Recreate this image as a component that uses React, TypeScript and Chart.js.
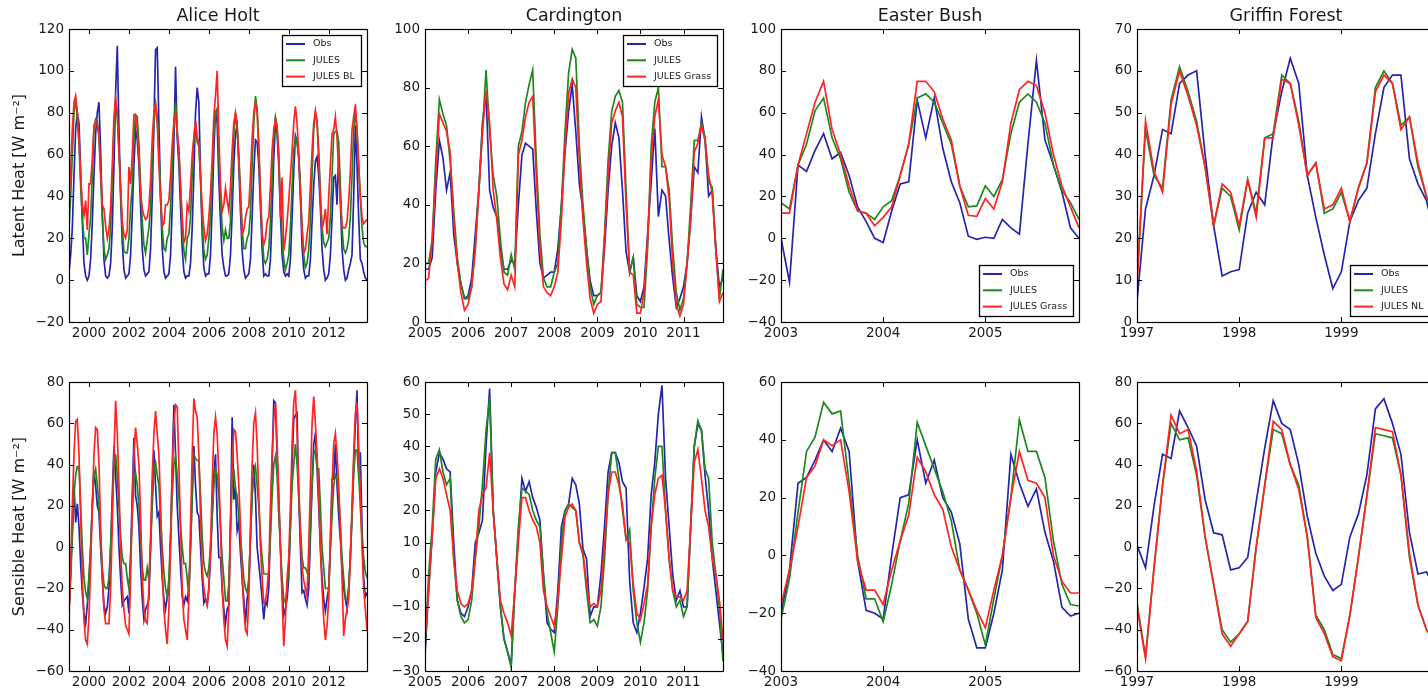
import React, { useEffect, useRef } from 'react';
import { Chart, registerables } from 'chart.js';

Chart.register(...registerables);
Chart.defaults.font.family = "'DejaVu Sans', sans-serif";

// ---------------- text ----------------
const SITES = ['Alice Holt', 'Cardington', 'Easter Bush', 'Griffin Forest'];
const Y_TITLES = ['Latent Heat [W m\u207B\u00B2]', 'Sensible Heat [W m\u207B\u00B2]'];
const LEGEND_LABELS = [
  ['Obs', 'JULES', 'JULES BL'],
  ['Obs', 'JULES', 'JULES Grass'],
  ['Obs', 'JULES', 'JULES Grass'],
  ['Obs', 'JULES', 'JULES NL'],
];
const START_YEARS = [1999, 2005, 2003, 1997];

// ---------------- ticks ----------------
const AH_X_TICKS = [2000, 2002, 2004, 2006, 2008, 2010, 2012];
const CA_X_TICKS = [2005, 2006, 2007, 2008, 2009, 2010, 2011];
const EB_X_TICKS = [2003, 2004, 2005];
const GF_X_TICKS = [1997, 1998, 1999];

const AH_LE_Y_TICKS = [-20, 0, 20, 40, 60, 80, 100, 120];
const CA_LE_Y_TICKS = [0, 20, 40, 60, 80, 100];
const EB_LE_Y_TICKS = [-40, -20, 0, 20, 40, 60, 80, 100];
const GF_LE_Y_TICKS = [0, 10, 20, 30, 40, 50, 60, 70];
const AH_H_Y_TICKS = [-60, -40, -20, 0, 20, 40, 60, 80];
const CA_H_Y_TICKS = [-30, -20, -10, 0, 10, 20, 30, 40, 50, 60];
const EB_H_Y_TICKS = [-40, -20, 0, 20, 40, 60];
const GF_H_Y_TICKS = [-60, -40, -20, 0, 20, 40, 60, 80];

// ---------------- Alice Holt (monthly, Jan 1999 - Dec 2013) ----------------
const AH_LE_OBS = [
  4, 12, 25, 50, 72, 80, 75, 52, 28, 8, 2, 0,
  2, 10, 28, 50, 70, 80, 85, 62, 32, 10, 2, 1,
  2, 8, 25, 55, 90, 112, 72, 40, 18, 5, 1, 2,
  3, 12, 32, 55, 72, 67, 55, 35, 15, 5, 2, 3,
  4, 15, 40, 75, 110, 111, 75, 40, 15, 4, 1, 2,
  3, 12, 35, 65, 102, 68, 55, 35, 15, 4, 1, 2,
  2, 8, 25, 50, 80, 92, 85, 50, 22, 6, 2, 3,
  3, 12, 35, 62, 81, 75, 48, 28, 12, 6, 2, 2,
  3, 12, 32, 55, 70, 74, 55, 33, 14, 5, 1, 2,
  3, 10, 30, 52, 67, 66, 55, 35, 15, 2, 3, 2,
  2, 10, 32, 58, 75, 70, 55, 32, 12, 4, 2, 3,
  2, 10, 30, 52, 69, 66, 58, 40, 16, 5, 1, 2,
  2, 10, 28, 45, 57, 59, 50, 35, 15, 5, 0, 1,
  3, 12, 30, 49, 50, 36, 60, 38, 15, 5, 0, 1,
  5, 8, 12, 40, 74, 55, 30, 10, 8, 4, 1, 0,
];
const AH_LE_JULES = [
  25, 40, 60, 80, 86, 78, 65, 45, 30, 20, 20, 12,
  22, 30, 50, 72, 77, 76, 68, 50, 30, 15, 10, 12,
  15, 25, 48, 72, 83, 78, 62, 42, 25, 14, 13, 13,
  20, 35, 45, 68, 79, 78, 65, 45, 28, 17, 13, 19,
  25, 35, 55, 75, 84, 78, 62, 42, 25, 15, 14, 20,
  22, 35, 55, 75, 85, 72, 62, 45, 25, 14, 10, 20,
  22, 30, 50, 68, 76, 66, 64, 48, 28, 14, 10, 12,
  20, 30, 50, 70, 80, 82, 60, 40, 25, 19, 24, 20,
  20, 28, 48, 70, 80, 72, 60, 42, 25, 15, 15, 20,
  22, 32, 55, 75, 88, 82, 65, 42, 22, 10, 8, 10,
  15, 28, 48, 68, 78, 74, 60, 38, 20, 10, 5, 8,
  12, 25, 45, 62, 68, 66, 60, 45, 25, 12, 6, 8,
  15, 28, 50, 72, 80, 76, 62, 42, 25, 18, 16, 18,
  20, 30, 50, 70, 71, 71, 66, 45, 25, 15, 13, 15,
  20, 30, 50, 72, 80, 72, 55, 40, 25, 18, 16, 16,
];
const AH_LE_BL = [
  40, 52, 72, 85, 88, 80, 68, 50, 36, 31, 38, 24,
  46, 46, 58, 74, 76, 74, 70, 52, 36, 34, 26, 20,
  24, 35, 55, 78, 87, 80, 62, 45, 28, 22, 20, 24,
  54, 46, 60, 79, 79, 72, 58, 42, 34, 31, 29, 30,
  35, 48, 68, 80, 84, 75, 55, 38, 26, 27, 36, 36,
  38, 50, 65, 75, 80, 70, 62, 45, 30, 18, 20, 36,
  33, 45, 60, 68, 76, 68, 66, 50, 35, 25, 19, 22,
  30, 42, 58, 78, 88, 100, 70, 45, 33, 36, 44, 38,
  33, 45, 62, 75, 80, 74, 58, 40, 22, 24, 30, 34,
  35, 50, 68, 80, 85, 80, 62, 40, 22, 17, 20, 28,
  30, 45, 62, 72, 77, 72, 60, 30, 49, 14, 20, 28,
  38, 50, 62, 75, 83, 75, 60, 40, 25, 13, 15, 22,
  28, 45, 62, 75, 81, 75, 58, 38, 25, 28, 34, 22,
  40, 55, 70, 72, 78, 68, 52, 38, 26, 25, 25, 28,
  38, 52, 72, 78, 84, 72, 55, 40, 30, 27, 28, 29,
];
const AH_H_OBS = [
  -30, -12, 8, 30, 12, 21, 10, -8, -22, -32, -37, -28,
  -17, 0, 20, 37, 30, 20, 17, 0, -15, -28, -32, -29,
  -20, 0, 25, 49, 35, 20, 0, -15, -28, -26, -25, -24,
  -32, -5, 25, 53, 25, 20, 10, -10, -25, -35, -30, -28,
  -25, 0, 25, 47, 30, 15, 17, 0, -15, -25, -30, -24,
  -22, 5, 38, 69, 45, 20, 5, -10, -24, -28, -24, -26,
  -20, 0, 25, 49, 30, 17, 15, 0, -15, -27, -25, -28,
  -20, -5, 15, 35, 45, 15, -5, -5, -20, -30, -37, -30,
  -28, 10, 63, 23, 29, 8, 12, -3, -15, -25, -37, -25,
  -20, 5, 25, 40, 25, 0, -8, -16, -25, -35, -26, -28,
  -20, 10, 40, 71, 70, 45, 24, 0, -20, -33, -30, -25,
  -15, 10, 40, 62, 64, 65, 24, 0, -22, -21, -25, -28,
  -20, 5, 30, 50, 55, 38, 20, 0, -15, -25, -31, -25,
  -20, 0, 33, 33, 50, 30, 15, 4, -10, -20, -25, -30,
  -20, -5, 15, 40, 60, 76, 36, 46, 10, -15, -24, -22,
];
const AH_H_JULES = [
  -30, -15, 5, 25, 35, 39, 39, 20, 0, -15, -22, -25,
  -14, 0, 20, 35, 38, 30, 20, 5, -10, -18, -20, -20,
  -15, 0, 20, 38, 45, 35, 20, 5, -5, -8, -8, -15,
  -20, -5, 15, 33, 36, 30, 20, 5, -10, -16, -16, -10,
  -16, 0, 20, 38, 41, 35, 30, 15, 0, -12, -20, -24,
  -15, 5, 25, 40, 44, 35, 25, 10, 0, -8, -8, -15,
  -24, 0, 25, 45, 43, 42, 42, 25, 5, -8, -12, -14,
  -10, 0, 15, 30, 38, 35, 25, 10, -5, -15, -26, -26,
  -18, 10, 30, 38, 28, 25, 15, 5, -5, -15, -20, -22,
  -15, 5, 25, 35, 39, 30, 20, 5, -5, -13, -13, -13,
  -13, 5, 25, 40, 44, 35, 15, 0, -15, -25, -27, -20,
  -10, 10, 30, 40, 50, 40, 25, 10, -5, -10, -10, -12,
  -15, 10, 30, 45, 47, 38, 38, 20, 0, -10, -20, -20,
  -20, 0, 15, 30, 35, 33, 25, 10, -5, -15, -25, -25,
  -20, -5, 15, 35, 47, 47, 35, 20, 5, -5, -12, -15,
];
const AH_H_BL = [
  -34, -10, 20, 45, 61, 62, 45, 15, -15, -35, -45, -47,
  -33, -10, 20, 45, 58, 57, 40, 10, -15, -30, -37, -37,
  -37, -20, 10, 45, 71, 55, 30, 0, -20, -30, -38, -40,
  -42, -15, 20, 45, 58, 50, 40, 15, -15, -30, -36, -37,
  -20, 5, 35, 55, 66, 55, 45, 20, -10, -30, -40, -47,
  -30, 0, 35, 60, 69, 68, 40, 10, -20, -35, -40, -45,
  -25, 10, 45, 72, 66, 63, 45, 15, -10, -20, -25, -28,
  -20, 0, 30, 55, 63, 55, 35, 10, -20, -35, -45, -48,
  -30, 10, 40, 57, 56, 45, 30, 10, -15, -30, -40, -42,
  -25, 10, 40, 60, 65, 50, 25, 0, -15, -27, -27, -20,
  -10, 20, 45, 62, 70, 50, 25, 0, -25, -48, -35, -15,
  -5, 20, 50, 70, 76, 55, 30, 5, -10, -16, -20, -24,
  0, 30, 60, 73, 60, 45, 25, 0, -20, -35, -45, -38,
  -25, 5, 30, 50, 55, 45, 30, 10, -15, -43, -35, -30,
  -25, -5, 20, 45, 65, 70, 50, 25, 0, -20, -30, -40,
];

// ---------------- Cardington (monthly, Jan 2005 - Dec 2011) ----------------
const CA_LE_OBS = [
  18, 18, 22, 45, 62, 56, 45, 51, 30, 20, 13, 8,
  9, 15, 30, 45, 68, 78, 45, 39, 36, 25, 18, 18,
  21, 20, 40, 57, 61, 60, 59, 38, 20, 15, 16, 17,
  17, 25, 40, 58, 72, 81, 65, 47, 38, 25, 14, 9,
  9, 10, 25, 45, 60, 68, 63, 45, 24, 17, 22, 9,
  7, 12, 30, 48, 66, 36, 45, 43, 28, 15, 5, 8,
  12, 20, 35, 53, 51, 70, 62, 43, 45, 25, 12, 15,
];
const CA_LE_JULES = [
  20, 20, 28, 55, 76, 71, 67, 55, 38, 22, 13, 8,
  8, 12, 25, 45, 65, 86, 65, 50, 43, 28, 17, 16,
  23, 18, 60, 65, 75, 81, 86, 55, 30, 15, 12, 12,
  17, 20, 40, 65, 85, 93, 90, 60, 40, 25, 12, 6,
  9, 10, 30, 55, 72, 77, 79, 75, 45, 17, 22, 6,
  5, 5, 25, 60, 75, 80, 53, 53, 45, 25, 10, 4,
  8, 20, 40, 62, 62, 68, 63, 48, 46, 25, 8, 18,
];
const CA_LE_GRASS = [
  14, 15, 28, 50, 71, 68, 65, 58, 35, 20, 10, 4,
  6, 12, 25, 45, 65, 79, 68, 45, 35, 22, 13, 11,
  16, 12, 57, 62, 70, 75, 77, 50, 25, 12, 10, 9,
  12, 17, 35, 60, 78, 83, 80, 55, 35, 20, 8, 3,
  6, 7, 28, 50, 68, 72, 75, 70, 40, 17, 16, 3,
  3, 10, 28, 55, 70, 76, 57, 53, 42, 20, 6, 2,
  6, 20, 35, 58, 61, 67, 62, 50, 44, 25, 7, 10,
];
const CA_H_OBS = [
  -25, -5, 12, 32, 38, 36, 33, 32, 10, -8, -12, -13,
  -10, -5, 10, 13, 17, 40, 58, 20, 5, -10, -20, -24,
  -28, -5, 12, 30, 26, 29, 24, 21, 17, 0, -15, -17,
  -18, -5, 15, 20, 22, 30, 28, 22, 8, 5, -13, -10,
  -10, 0, 15, 32, 38, 38, 35, 29, 27, -2, -15, -18,
  -12, -4, 5, 25, 35, 50, 59, 30, 15, 0, -8, -5,
  -10, -10, 15, 40, 47, 45, 31, 20, 5, -5, -15, -25,
];
const CA_H_JULES = [
  -24, 0, 15, 36, 39, 32, 28, 30, 5, -8, -13, -15,
  -14, -8, 5, 15, 28, 45, 55, 20, 5, -10, -20, -24,
  -29, -5, 15, 27, 26, 25, 20, 17, 15, 0, -12, -18,
  -24, -10, 10, 20, 22, 21, 20, 10, 6, -5, -15, -14,
  -16, -10, 5, 25, 38, 38, 30, 20, 11, 14, -5, -15,
  -21, -15, -5, 15, 30, 40, 40, 20, 5, -5, -10, -8,
  -13, -10, 15, 40, 48, 45, 33, 30, 10, 0, -10, -27,
];
const CA_H_GRASS = [
  -20, -5, 12, 30, 33, 30, 25, 20, 5, -5, -9, -10,
  -9, -5, 5, 20, 25, 27, 38, 20, 5, -8, -12, -15,
  -19, -5, 10, 24, 24, 20, 17, 15, 10, -5, -10, -13,
  -16, -8, 5, 18, 21, 22, 20, 10, 7, -3, -10, -9,
  -10, -5, 10, 25, 32, 32, 28, 22, 11, 10, -3, -12,
  -14, -9, -3, 15, 25, 30, 31, 20, 5, -5, -7, -7,
  -8, -5, 15, 35, 39, 30, 20, 15, 5, 0, -8, -20,
];

// ---------------- Easter Bush (monthly, Jan 2003 - Dec 2005) ----------------
const EB_LE_OBS = [
  0, -21, 35, 32, 42, 50, 38, 41, 30, 15, 8, 0,
  -2, 13, 26, 27, 66, 48, 67, 43, 27, 17, 1, -0.5,
  0.5, 0, 9, 5, 2, 45, 85, 47, 35, 22, 5, 0,
];
const EB_LE_JULES = [
  17, 14, 35, 45, 61, 67, 48, 38, 22, 13, 12, 9,
  15, 18, 30, 45, 67, 69, 65, 55, 45, 25, 15, 15.5,
  25, 20, 28, 50, 65, 69, 65, 55, 35, 23, 17, 9,
];
const EB_LE_GRASS = [
  12, 12, 35, 50, 65, 75, 52, 40, 25, 13, 12, 6,
  10, 15, 30, 45, 75, 75, 70, 57, 47, 25, 11, 10.5,
  19, 14, 27, 55, 71, 75, 73, 60, 40, 25, 15, 5,
];
const EB_H_OBS = [
  -20, -5, 25, 27, 33, 40, 36, 44, 36, -2, -19, -20,
  -22, 0, 20, 21, 40, 25, 33, 20, 15, 4, -22, -32,
  -32, -20, -5, 35, 25, 17, 23, 8, -2, -18, -21, -20,
];
const EB_H_JULES = [
  -22, -8, 15, 36, 41, 53, 49, 50, 25, 0, -15, -15,
  -23, -10, 5, 18, 46, 38, 30, 22, 12, -5, -12, -20,
  -31, -15, 0, 20, 47, 36, 36, 27, 5, -10, -17, -17.5,
];
const EB_H_GRASS = [
  -17, -5, 10, 27, 31, 40, 38, 40, 22, -2, -12, -12,
  -17, -5, 5, 14, 34, 29, 21, 16, 3, -5, -12, -19,
  -25, -12, 0, 20, 36, 26, 25, 20, 0, -9, -13, -13,
];

// ---------------- Griffin Forest (monthly, Jan 1997 - Dec 1999) ----------------
const GF_LE_OBS = [
  5, 27, 35, 46, 45, 57, 59, 60, 40, 23, 11, 12,
  12.5, 26, 31, 28, 45, 55, 63, 57, 35, 25, 16, 8,
  12, 24, 29, 32, 45, 56, 59, 59, 39, 33, 29, 20,
];
const GF_LE_JULES = [
  10, 46, 35, 32, 53, 61, 55, 48, 37, 23, 32, 30,
  22, 34, 26, 44, 45, 59, 57, 48, 35, 38, 26, 27,
  31, 24, 32, 38, 56, 60, 57, 47, 49, 37, 30, 25,
];
const GF_LE_NL = [
  8, 48, 36, 31, 52, 60, 54, 47, 37, 23, 33, 31,
  23, 34, 25, 44, 44, 58, 57, 47, 35, 38, 27, 28,
  32, 24, 32, 38, 55, 59, 57, 46, 49, 38, 30, 26,
];
const GF_H_OBS = [
  1, -10, 20, 45, 43, 66, 58, 49, 23, 7, 6, -11,
  -10, -5, 22, 48, 71, 60, 57, 40, 15, -3, -14, -21,
  -18, 5, 16, 35, 67, 72, 60, 45, 7, -13, -12, -20,
];
const GF_H_JULES = [
  -27, -53, -10, 30, 60, 52, 53, 35, 5, -18, -40, -46,
  -42, -36, 0, 30, 57, 55, 40, 30, 5, -33, -40, -52,
  -54, -33, -5, 25, 55, 54, 53, 35, -5, -28, -40, -47,
];
const GF_H_NL = [
  -29, -54, -10, 30, 64, 55, 57, 37, 5, -18, -42, -48,
  -42, -36, 0, 30, 61, 57, 40, 28, 5, -34, -42, -53,
  -55, -33, -5, 25, 58, 57, 56, 35, -3, -28, -40, -46,
];

// ---------------- styles / layout ----------------
const SERIES_COLORS = ['#2626ad', '#1f871f', '#ff2424'];
const TEXT_COLOR = '#1a1a1a';
const PLOT_LEFT = [69, 425, 781, 1137];
const PLOT_W = 298;
const ROW_PLOT_TOP = [29, 379];
const ROW_PLOT_H = [293, 292];
const TOP_PAD = [29, 10];
const X_AXIS_H = 26;
const RIGHT_PAD = 12;

type Corner = 'tr' | 'br' | null;
type PanelSpec = {
  row: number; col: number;
  obs: number[]; jules: number[]; alt: number[];
  xTicks: number[]; yTicks: number[]; legend: Corner;
};

const PANELS: PanelSpec[] = [
  { row: 0, col: 0, obs: AH_LE_OBS, jules: AH_LE_JULES, alt: AH_LE_BL, xTicks: AH_X_TICKS, yTicks: AH_LE_Y_TICKS, legend: 'tr' },
  { row: 0, col: 1, obs: CA_LE_OBS, jules: CA_LE_JULES, alt: CA_LE_GRASS, xTicks: CA_X_TICKS, yTicks: CA_LE_Y_TICKS, legend: 'tr' },
  { row: 0, col: 2, obs: EB_LE_OBS, jules: EB_LE_JULES, alt: EB_LE_GRASS, xTicks: EB_X_TICKS, yTicks: EB_LE_Y_TICKS, legend: 'br' },
  { row: 0, col: 3, obs: GF_LE_OBS, jules: GF_LE_JULES, alt: GF_LE_NL, xTicks: GF_X_TICKS, yTicks: GF_LE_Y_TICKS, legend: 'br' },
  { row: 1, col: 0, obs: AH_H_OBS, jules: AH_H_JULES, alt: AH_H_BL, xTicks: AH_X_TICKS, yTicks: AH_H_Y_TICKS, legend: null },
  { row: 1, col: 1, obs: CA_H_OBS, jules: CA_H_JULES, alt: CA_H_GRASS, xTicks: CA_X_TICKS, yTicks: CA_H_Y_TICKS, legend: null },
  { row: 1, col: 2, obs: EB_H_OBS, jules: EB_H_JULES, alt: EB_H_GRASS, xTicks: EB_X_TICKS, yTicks: EB_H_Y_TICKS, legend: null },
  { row: 1, col: 3, obs: GF_H_OBS, jules: GF_H_JULES, alt: GF_H_NL, xTicks: GF_X_TICKS, yTicks: GF_H_Y_TICKS, legend: null },
];

function geometry(p: PanelSpec) {
  const yw = p.col === 0 ? 69 : 52;
  return {
    yw,
    left: PLOT_LEFT[p.col] - yw,
    top: ROW_PLOT_TOP[p.row] - TOP_PAD[p.row],
    w: yw + PLOT_W + RIGHT_PAD,
    h: TOP_PAD[p.row] + ROW_PLOT_H[p.row] + X_AXIS_H,
  };
}

const fmtNum = (v: number) => (v < 0 ? '\u2212' + Math.abs(v) : String(v));

// matplotlib-like frame, inward ticks on all sides, title and boxed legend
const mplPlugin = {
  id: 'mpl',
  afterDraw(chart: any, _args: any, opts: any) {
    const { ctx, chartArea: a, scales } = chart;
    const xs = scales.x;
    const ys = scales.y;
    const L = 5;
    ctx.save();
    ctx.strokeStyle = '#000';
    ctx.lineWidth = 1;
    ctx.beginPath();
    for (const t of xs.ticks) {
      const px = Math.round(xs.getPixelForValue(t.value)) + 0.5;
      ctx.moveTo(px, a.bottom); ctx.lineTo(px, a.bottom - L);
      ctx.moveTo(px, a.top); ctx.lineTo(px, a.top + L);
    }
    for (const t of ys.ticks) {
      const py = Math.round(ys.getPixelForValue(t.value)) + 0.5;
      ctx.moveTo(a.left, py); ctx.lineTo(a.left + L, py);
      ctx.moveTo(a.right, py); ctx.lineTo(a.right - L, py);
    }
    ctx.stroke();
    ctx.lineWidth = 1.2;
    ctx.strokeRect(Math.round(a.left) + 0.5, Math.round(a.top) + 0.5,
      Math.round(a.right - a.left), Math.round(a.bottom - a.top));

    if (opts.title) {
      ctx.font = "17.5px 'DejaVu Sans'";
      ctx.fillStyle = TEXT_COLOR;
      ctx.textAlign = 'center';
      ctx.textBaseline = 'middle';
      ctx.fillText(opts.title, (a.left + a.right) / 2, a.top - 12.5);
    }

    if (opts.legend && opts.corner) {
      ctx.font = "9.5px 'DejaVu Sans'";
      const tw = Math.max(...opts.legend.map((e: any) => ctx.measureText(e.label).width));
      const w = Math.round(31 + tw + 6);
      const h = 51;
      const x = Math.round(a.right - 6 - w);
      const y = opts.corner === 'tr' ? Math.round(a.top + 6) : Math.round(a.bottom - 6 - h);
      ctx.fillStyle = '#fff';
      ctx.fillRect(x, y, w, h);
      ctx.strokeStyle = '#000';
      ctx.lineWidth = 1.3;
      ctx.strokeRect(x + 0.5, y + 0.5, w, h);
      opts.legend.forEach((e: any, i: number) => {
        const cy = y + 9 + i * 16.3;
        ctx.strokeStyle = e.color;
        ctx.lineWidth = 2;
        ctx.beginPath();
        ctx.moveTo(x + 4, cy); ctx.lineTo(x + 23, cy);
        ctx.stroke();
        ctx.fillStyle = TEXT_COLOR;
        ctx.textAlign = 'left';
        ctx.textBaseline = 'middle';
        ctx.fillText(e.label, x + 31, cy);
      });
    }
    ctx.restore();
  },
};

function makeConfig(p: PanelSpec): any {
  const start = START_YEARS[p.col];
  const g = geometry(p);
  const names = LEGEND_LABELS[p.col];
  const sets = [p.obs, p.jules, p.alt];
  const toPts = (arr: number[]) => arr.map((v, i) => ({ x: start + i / 12, y: v }));
  const xMax = start + (p.obs.length - 1) / 12;
  const yMin = p.yTicks[0];
  const yMax = p.yTicks[p.yTicks.length - 1];
  return {
    type: 'line',
    data: {
      datasets: sets.map((s, k) => ({
        label: names[k],
        data: toPts(s),
        borderColor: SERIES_COLORS[k],
        backgroundColor: SERIES_COLORS[k],
        borderWidth: 1.7,
        pointRadius: 0,
        tension: 0,
        fill: false,
        order: 3 - k,
      })),
    },
    options: {
      responsive: false,
      animation: false,
      devicePixelRatio: 1,
      layout: { padding: { top: TOP_PAD[p.row], left: 0, right: RIGHT_PAD, bottom: 0 } },
      plugins: {
        legend: { display: false },
        tooltip: { enabled: false },
        title: { display: false },
        mpl: {
          title: p.row === 0 ? SITES[p.col] : '',
          corner: p.legend,
          legend: p.legend ? names.map((nm, k) => ({ label: nm, color: SERIES_COLORS[k] })) : null,
        },
      },
      scales: {
        x: {
          type: 'linear',
          min: start,
          max: xMax,
          afterBuildTicks: (s: any) => { s.ticks = p.xTicks.map((v) => ({ value: v })); },
          afterFit: (s: any) => { s.height = X_AXIS_H; },
          grid: { display: false, drawTicks: false },
          border: { display: false },
          ticks: {
            autoSkip: false, maxRotation: 0, minRotation: 0, padding: 3,
            font: { size: 13.5 }, color: TEXT_COLOR,
            callback: (v: any) => String(v),
          },
        },
        y: {
          type: 'linear',
          min: yMin,
          max: yMax,
          afterBuildTicks: (s: any) => { s.ticks = p.yTicks.map((v) => ({ value: v })); },
          afterFit: (s: any) => { s.width = g.yw; },
          grid: { display: false, drawTicks: false },
          border: { display: false },
          ticks: {
            autoSkip: false, padding: 5,
            font: { size: 13.5 }, color: TEXT_COLOR,
            callback: (v: any) => fmtNum(Number(v)),
          },
          title: {
            display: p.col === 0,
            text: Y_TITLES[p.row],
            font: { size: 16 },
            color: TEXT_COLOR,
            padding: { top: 10, bottom: 0 },
          },
        },
      },
    },
    plugins: [mplPlugin],
  };
}

function Panel({ spec }: { spec: PanelSpec }) {
  const ref = useRef<HTMLCanvasElement | null>(null);
  const g = geometry(spec);
  useEffect(() => {
    if (!ref.current) return;
    const chart = new Chart(ref.current, makeConfig(spec));
    return () => chart.destroy();
  }, [spec]);
  return (
    <canvas
      ref={ref}
      width={g.w}
      height={g.h}
      style={{ position: 'absolute', left: g.left, top: g.top, width: g.w, height: g.h, display: 'block' }}
    />
  );
}

export default function App() {
  return (
    <div
      style={{
        position: 'fixed', left: 0, top: 0, width: 1428, height: 698,
        overflow: 'hidden', background: '#ffffff',
      }}
    >
      {PANELS.map((p, i) => <Panel key={i} spec={p} />)}
    </div>
  );
}
